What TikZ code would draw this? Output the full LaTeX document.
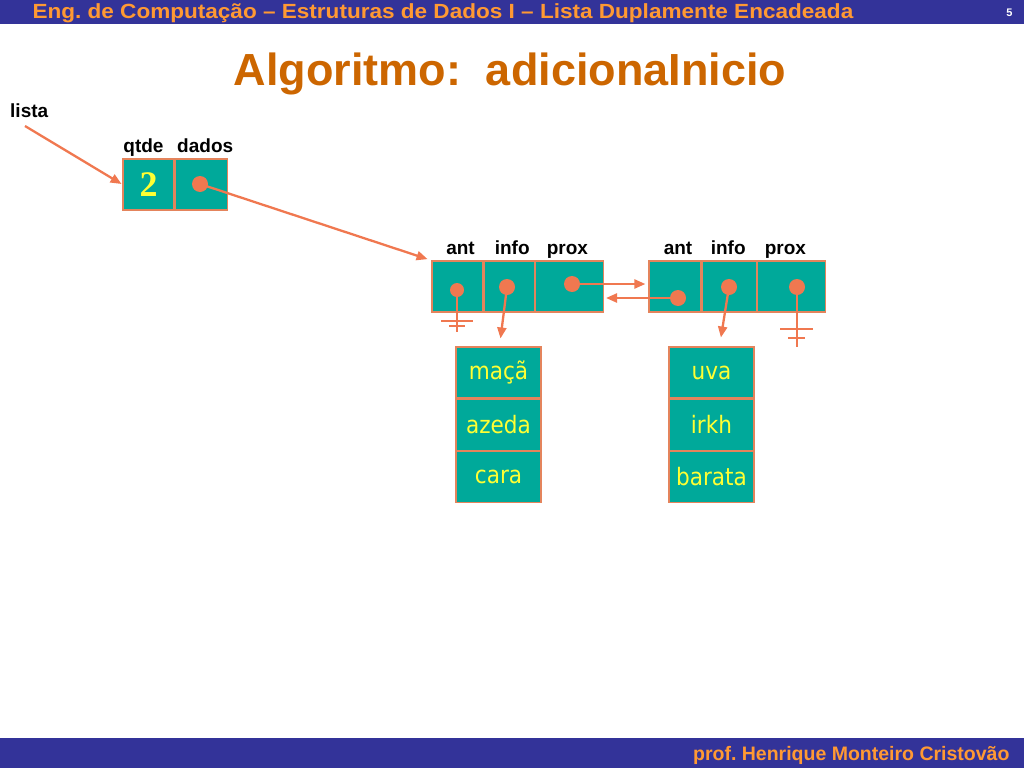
\documentclass[tikz,border=0pt]{standalone}
\usepackage{fontspec}
\setmainfont{Liberation Sans}
\newfontfamily\widefont[FakeStretch=1.1]{Liberation Sans}
\newfontfamily\numfont{Liberation Serif}
\newfontfamily\cellfont[FakeStretch=0.9]{DejaVu Sans}
\usepackage{xcolor}
\usetikzlibrary{arrows.meta,positioning,calc}
\definecolor{barblue}{HTML}{333399}
\definecolor{barorange}{HTML}{FF9933}
\definecolor{titleorange}{HTML}{CC6600}
\definecolor{cellteal}{HTML}{00A99A}
\definecolor{linkorange}{HTML}{F07850}
\definecolor{cellborder}{HTML}{E4845C}
\definecolor{textyellow}{HTML}{FFFF33}
\frenchspacing

\begin{document}
\begin{tikzpicture}[x=1pt,y=-1pt,
  cell/.style={draw=cellborder, line width=1.2pt, fill=cellteal, minimum height=51pt, inner sep=0pt},
  datacell/.style={cell, minimum width=85pt, text=textyellow, font=\cellfont\fontsize{24}{24}\selectfont},
  field/.style={font=\bfseries\fontsize{19}{19}\selectfont, inner sep=2pt, text height=13.5pt, text depth=4pt},
  dot/.style={circle, fill=linkorange, minimum size=16pt, inner sep=0pt},
  link/.style={draw=linkorange, line width=2.3pt},
  tip/.style={link, -{Triangle[length=11pt,width=9pt]}}]
\useasboundingbox (0,0) rectangle (1024,768);
% top and bottom bars
\fill[barblue] (0,0) rectangle (1024,24);
\fill[barblue] (0,738) rectangle (1024,768);
\node[anchor=base west, text=barorange, font=\widefont\bfseries\fontsize{20.5}{20.5}\selectfont] (header) at (29,18.5) {Eng. de Computação – Estruturas de Dados I – Lista Duplamente Encadeada};
\node[anchor=base east, text=white, font=\bfseries\fontsize{11}{11}\selectfont] (page) at (1016,17) {5};
\node[anchor=base east, text=barorange, font=\bfseries\fontsize{19.5}{19.5}\selectfont] (author) at (1013,760) {prof. Henrique Monteiro Cristovão};
\node[anchor=base west, text=titleorange, font=\bfseries\fontsize{45}{45}\selectfont] (title) at (230,85) {Algoritmo:\ \ adicionaInicio};

% list header
\node[anchor=base west, field] (lista) at (8,117) {lista};
\node[cell, minimum width=51pt, text=textyellow, font=\numfont\bfseries\fontsize{36}{36}\selectfont] (qtde) at (148.5,184.5) {2};
\node[cell, minimum width=52pt, right=0pt of qtde] (dados) {};
\node[field, above=0pt of qtde.north, xshift=-5pt] (lqtde) {qtde};
\node[field, above=0pt of dados.north, xshift=4pt] (ldados) {dados};

% first node
\node[cell, minimum width=51pt] (ant1) at (457.5,286.5) {};
\node[cell, minimum width=50pt, right=0pt of ant1] (info1) {};
\node[cell, minimum width=68pt, right=0pt of info1] (prox1) {};
% second node
\node[cell, minimum width=52pt] (ant2) at (675,286.5) {};
\node[cell, minimum width=54pt, right=0pt of ant2] (info2) {};
\node[cell, minimum width=68pt, right=0pt of info2] (prox2) {};

\foreach \c/\t/\s in {ant1/ant/3, info1/info/3, prox1/prox/-2, ant2/ant/3, info2/info/-1, prox2/prox/-6}
  \node[field, above=0pt of \c.north, xshift=\s pt] (l\c) {\t};

% data
\node[datacell] (maca) at (498.5,372.5) {maçã};
\node[datacell, below=0pt of maca] (azeda) {azeda};
\node[datacell, below=0pt of azeda] (cara) {cara};
\node[datacell] (uva) at (711.5,372.5) {uva};
\node[datacell, below=0pt of uva] (irkh) {irkh};
\node[datacell, below=0pt of irkh] (barata) {barata};

% pointers
\node[dot] (ddot) at (200,184) {};
\node[dot, minimum size=14pt] (a1dot) at (457,290) {};
\node[dot] (i1dot) at (507,287) {};
\node[dot] (p1dot) at (572,284) {};
\node[dot] (a2dot) at (678,298) {};
\node[dot] (i2dot) at (729,287) {};
\node[dot] (p2dot) at (797,287) {};

\coordinate (listatail) at (25,126);
\draw[tip, shorten >=1pt] (listatail) -- (qtde.west);
\draw[tip, shorten >=4pt] (ddot.center) -- (ant1.north west);
\draw[tip, shorten >=3pt] (p1dot.center) -- (p1dot -| ant2.west);
\draw[tip, shorten >=2pt] (a2dot.center) -- (a2dot -| prox1.east);
\draw[tip, shorten >=8pt] (i1dot.center) -- ([xshift=1pt]maca.north);
\draw[tip, shorten >=9pt] (i2dot.center) -- ([xshift=8pt]uva.north);

% null pointers
\coordinate (g1) at (457,332);
\coordinate (g2) at (797,347);
\draw[link] (a1dot.center) -- (g1);
\draw[link] ($(g1)+(-16,-11)$) -- ++(32,0);
\draw[link] ($(g1)+(-8,-6)$) -- ++(16,0);
\draw[link] (p2dot.center) -- (g2);
\draw[link] ($(g2)+(-17,-18)$) -- ++(33,0);
\draw[link] ($(g2)+(-9,-9)$) -- ++(17,0);
\end{tikzpicture}
\end{document}
